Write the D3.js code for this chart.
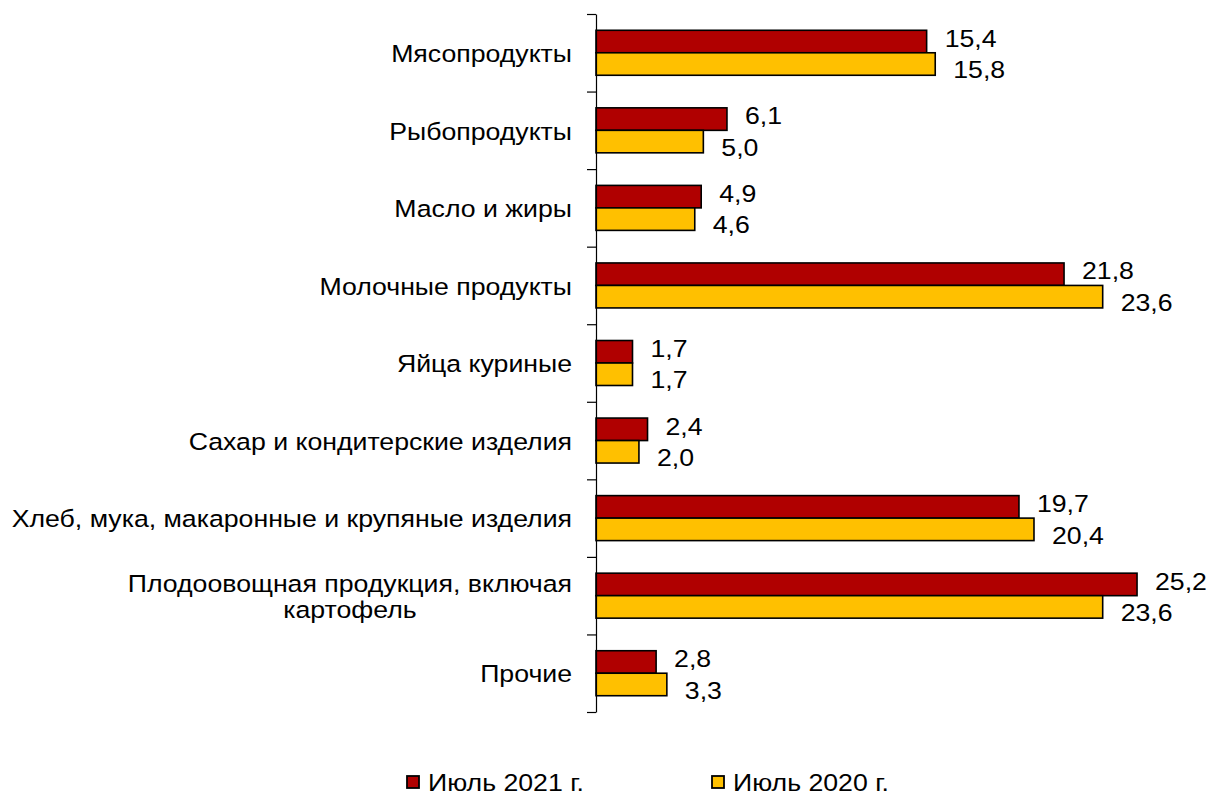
<!DOCTYPE html>
<html>
<head>
<meta charset="utf-8">
<script src="https://cdn.jsdelivr.net/npm/d3@7"></script>
<style>
    body { margin: 0; background: #fff; }
    svg text { font-family: "Liberation Sans", Arial, sans-serif; fill: #000; }
</style>
</head>
<body>
<svg id="chart" width="1208" height="796"></svg>
<script>
(function() {
    'use strict';

    var categories = [
        "Мясопродукты",
        "Рыбопродукты",
        "Масло и жиры",
        "Молочные продукты",
        "Яйца куриные",
        "Сахар и кондитерские изделия",
        "Хлеб, мука, макаронные и крупяные изделия",
        "Плодоовощная продукция, включая|картофель",
        "Прочие"
    ];
    var seriesNames = ["Июль 2021 г.", "Июль 2020 г."];
    var july2021 = [15.4, 6.1, 4.9, 21.8, 1.7, 2.4, 19.7, 25.2, 2.8];
    var july2020 = [15.8, 5.0, 4.6, 23.6, 1.7, 2.0, 20.4, 23.6, 3.3];
    var colors = ["#b00000", "#ffc000"];

    var svg = d3.select("#chart");
    var axisX = 596, top = 14, bottom = 712;
    var fontSize = 23.5;
    var stretch = 1.135; // reference text is a bit wider than Liberation Sans

    // text placed with horizontal stretch around its anchor point
    function label(sel, tx, ty) {
        return sel.append("text")
            .attr("transform", "translate(" + tx + "," + ty + ") scale(" + stretch + ",1)")
            .attr("dy", "0.35em")
            .style("font-size", fontSize + "px");
    }

    var x = d3.scaleLinear().domain([0, 28]).range([axisX, axisX + 28 * 21.47]);
    var y = d3.scaleBand().domain(categories).range([top, bottom]);
    var bw = y.bandwidth();
    var inner = d3.scaleBand().domain(seriesNames).range([bw * 0.21, bw * 0.79]);

    var rows = categories.map(function(c, i) {
        return { cat: c, vals: [july2021[i], july2020[i]] };
    });

    // bars
    var g = svg.selectAll("g.row")
        .data(rows)
        .enter().append("g")
        .attr("class", "row")
        .attr("transform", function(d) { return "translate(0," + y(d.cat) + ")"; });

    g.selectAll("rect")
        .data(function(d) { return d.vals; })
        .enter().append("rect")
        .attr("x", x(0))
        .attr("y", function(d, i) { return inner(seriesNames[i]); })
        .attr("width", function(d) { return x(d) - x(0); })
        .attr("height", inner.bandwidth())
        .attr("fill", function(d, i) { return colors[i]; })
        .attr("stroke", "#000")
        .attr("stroke-width", 1.6);

    // value labels
    var labelShift = [-3, 6];
    g.each(function(d) {
        var row = d3.select(this);
        d.vals.forEach(function(v, i) {
            label(row, x(v) + 18, inner(seriesNames[i]) + inner.bandwidth() / 2 + labelShift[i])
                .text(d3.format(".1f")(v).replace(".", ","));
        });
    });

    // category labels
    g.each(function(d) {
        var row = d3.select(this);
        var lines = d.cat.split("|");
        if (lines.length === 1) {
            label(row, 572, bw / 2 + 1).attr("text-anchor", "end").text(lines[0]);
        } else {
            var first = label(row, 572, bw / 2 - 12).attr("text-anchor", "end").text(lines[0]);
            var w = first.node().getComputedTextLength() * stretch;
            label(row, 572 - w / 2, bw / 2 + 14).attr("text-anchor", "middle").text(lines[1]);
        }
    });

    // axis with ticks at band edges
    var edge = d3.scaleLinear().domain([0, categories.length]).range([top, bottom]);
    var axis = svg.append("g")
        .attr("transform", "translate(" + axisX + ",0)")
        .call(d3.axisLeft(edge).tickValues(d3.range(categories.length + 1))
            .tickSize(9).tickSizeOuter(0).tickFormat(""));
    axis.select(".domain").attr("stroke", "#000").attr("stroke-width", 1.2);
    axis.selectAll(".tick line").attr("stroke", "#000").attr("stroke-width", 1.2);

    // legend
    var legendX = [407, 712];
    var lg = svg.selectAll("g.legend")
        .data(seriesNames)
        .enter().append("g")
        .attr("class", "legend")
        .attr("transform", function(d, i) { return "translate(" + legendX[i] + ",776)"; });
    lg.append("rect")
        .attr("width", 12).attr("height", 12)
        .attr("fill", function(d, i) { return colors[i]; })
        .attr("stroke", "#000").attr("stroke-width", 1.8);
    lg.each(function(d) {
        label(d3.select(this), 21, 7).text(d);
    });
})();
</script>
</body>
</html>
